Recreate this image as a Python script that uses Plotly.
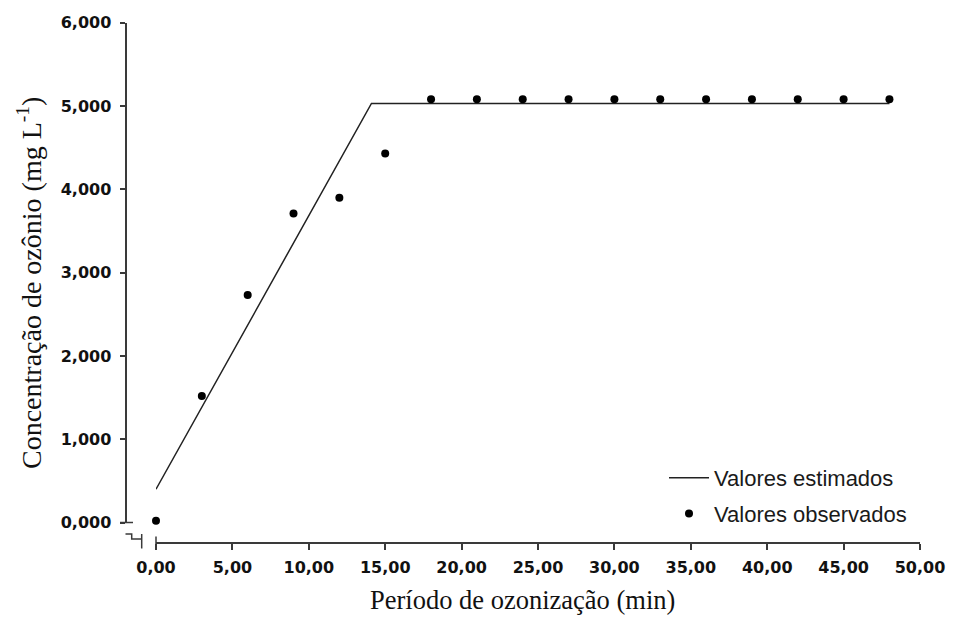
import plotly.graph_objects as go

# Observed data
obs_x = [0, 3, 6, 9, 12, 15, 18, 21, 24, 27, 30, 33, 36, 39, 42, 45, 48]
obs_y = [0.02, 1.52, 2.73, 3.71, 3.90, 4.43, 5.08, 5.08, 5.08, 5.08, 5.08, 5.08, 5.08, 5.08, 5.08, 5.08, 5.08]

# Estimated (segmented model)
est_x = [0, 14.1, 48]
est_y = [0.40, 5.03, 5.03]

x_tickvals = [0, 5, 10, 15, 20, 25, 30, 35, 40, 45, 50]
x_ticktext = ["0,00", "5,00", "10,00", "15,00", "20,00", "25,00", "30,00", "35,00", "40,00", "45,00", "50,00"]
y_tickvals = [0, 1, 2, 3, 4, 5, 6]
y_ticktext = ["0,000", "1,000", "2,000", "3,000", "4,000", "5,000", "6,000"]

x_title = "Período de ozonização (min)"
y_title = "Concentração de ozônio (mg L<sup>-1</sup>)"

OFF = 8  # page body margin
W, H = 956 - 2 * OFF, 623 - 2 * OFF
ML, MR, MT, MB = 100, 10, 10, 60
PW, PH = W - ML - MR, H - MT - MB


def px(xp):
    return (xp - OFF - ML) / PW


def py(yp):
    return (H - MB - (yp - OFF)) / PH


AX = "#3a3a3a"
tickfont = dict(family="DejaVu Sans", size=16, color="#111", weight="bold")
xtitlefont = dict(family="Liberation Serif", size=26.5, color="#111")
ytitlefont = dict(family="Liberation Serif", size=28, color="#111")

fig = go.Figure()
fig.add_trace(go.Scatter(x=est_x, y=est_y, mode="lines", name="Valores estimados",
                         line=dict(color="#222", width=1.5), cliponaxis=False,
                         legendgroup="a"))
fig.add_trace(go.Scatter(x=obs_x, y=obs_y, mode="markers", name="Valores observados",
                         marker=dict(color="black", size=8), cliponaxis=False,
                         legendgroup="b"))

fig.update_layout(
    width=W, height=H,
    margin=dict(l=ML, r=MR, t=MT, b=MB, autoexpand=False),
    plot_bgcolor="white", paper_bgcolor="white",
    xaxis=dict(range=[0, 50], domain=[px(156), px(920)], anchor="free", position=py(542.5),
               automargin=False,
               showline=True, linecolor=AX, linewidth=2, showgrid=False, zeroline=False,
               ticks="outside", ticklen=6, tickwidth=1.5, tickcolor=AX, ticklabelstandoff=4,
               tickvals=x_tickvals, ticktext=x_ticktext, tickfont=tickfont),
    yaxis=dict(range=[0, 6], domain=[py(522.5), py(22.7)], anchor="free", position=px(125.5),
               automargin=False,
               showline=True, linecolor=AX, linewidth=2, showgrid=False, zeroline=False,
               ticks="outside", ticklen=5, tickwidth=1.5, tickcolor=AX, ticklabelstandoff=5,
               tickvals=y_tickvals, ticktext=y_ticktext, tickfont=tickfont),
    legend=dict(x=px(664), y=py(457), xanchor="left", yanchor="top",
                font=dict(family="Liberation Sans", size=22, color="#1a1a1a"),
                tracegroupgap=4, bgcolor="rgba(0,0,0,0)", itemwidth=40),
    showlegend=True,
)

# axis titles
fig.add_annotation(text=x_title, xref="paper", yref="paper", x=px(522), y=py(600),
                   xanchor="center", yanchor="middle", showarrow=False, font=xtitlefont)
fig.add_annotation(text=y_title, xref="paper", yref="paper", x=px(29), y=py(283),
                   xanchor="center", yanchor="middle", showarrow=False, font=ytitlefont,
                   textangle=-90)

# axis-break marks
fig.add_shape(type="path", xref="paper", yref="paper",
              path=f"M{px(125.5)},{py(534)} L{px(131.7)},{py(534)} L{px(131.7)},{py(539)} L{px(141.7)},{py(539)}",
              line=dict(color=AX, width=1.5))
fig.add_shape(type="line", xref="paper", yref="paper",
              x0=px(141.7), x1=px(141.7), y0=py(534), y1=py(548.5),
              line=dict(color=AX, width=1.5))
fig.add_shape(type="line", xref="paper", yref="paper",
              x0=px(156), x1=px(156), y0=py(536.5), y1=py(548.5),
              line=dict(color=AX, width=1.5))
fig.add_shape(type="line", xref="paper", yref="paper",
              x0=px(120), x1=px(133), y0=py(522.5), y1=py(522.5),
              line=dict(color=AX, width=1.5))

fig.write_html("out.html")
